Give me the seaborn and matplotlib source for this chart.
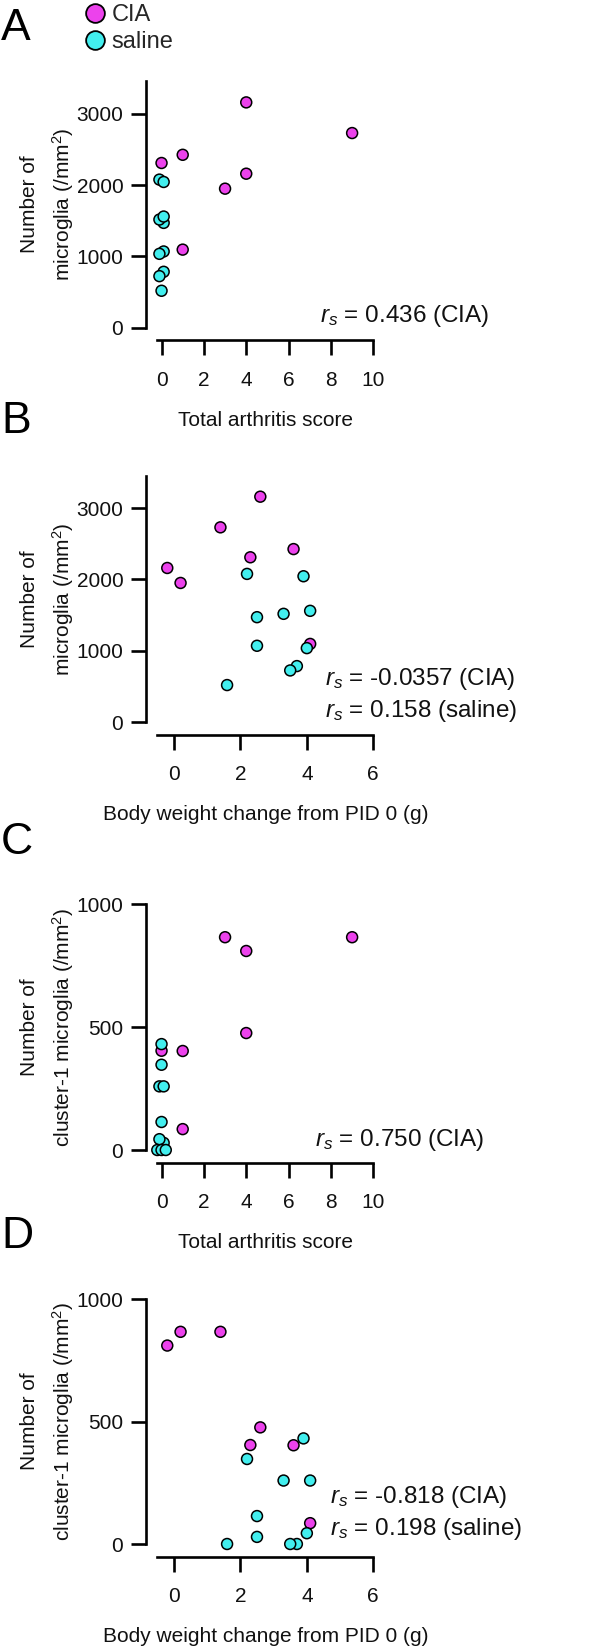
import matplotlib
matplotlib.use("Agg")
import matplotlib.pyplot as plt
from matplotlib.lines import Line2D
import seaborn as sns
import pandas as pd

# ---------------- data ----------------
groups = ["CIA", "saline"]

cia_score = [0, 1, 1, 3, 4, 4, 9]
cia_bw = [2.3, 3.6, 4.1, 0.2, 2.6, -0.2, 1.4]
cia_microglia = [2310, 2425, 1095, 1950, 3160, 2160, 2730]
cia_cluster1 = [404, 403, 85, 866, 476, 810, 866]

# saline animals all score 0; values below are the displayed (jittered) positions
saline_score_A = [-0.1, 0.1, 0.1, -0.1, 0.1, 0.1, -0.1, 0.1, -0.1, 0.0]
saline_score_C = [0.0, 0.0, 0.0, -0.1, 0.1, 0.1, -0.1, -0.2, 0.0, 0.2]
saline_bw = [2.2, 3.9, 2.5, 3.3, 4.1, 2.5, 4.0, 3.7, 3.5, 1.6]
saline_microglia = [2077, 2044, 1470, 1517, 1559, 1069, 1036, 784, 723, 518]
saline_cluster1 = [347, 431, 114, 259, 259, 29, 44, 0, 0, 0]

rs_A = ["$r_s$ = 0.436 (CIA)"]
rs_B = ["$r_s$ = -0.0357 (CIA)", "$r_s$ = 0.158 (saline)"]
rs_C = ["$r_s$ = 0.750 (CIA)"]
rs_D = ["$r_s$ = -0.818 (CIA)", "$r_s$ = 0.198 (saline)"]

xticks_score = [0, 2, 4, 6, 8, 10]
xticks_bw = [0, 2, 4, 6]
yticks_micro = [0, 1000, 2000, 3000]
yticks_c1 = [0, 500, 1000]

palette = {"CIA": "#ec42ec", "saline": "#42eeee"}

# ---------------- style ----------------
sns.set_theme(style="ticks")
plt.rcParams["font.family"] = ["Liberation Sans", "DejaVu Sans"]
plt.rcParams["mathtext.fontset"] = "custom"
plt.rcParams["mathtext.rm"] = "Liberation Sans"
plt.rcParams["mathtext.it"] = "Liberation Sans:italic"
plt.rcParams["mathtext.bf"] = "Liberation Sans:bold"

W, H = 598, 1651
fig = plt.figure(figsize=(W / 100, H / 100), dpi=100)


def add_ax(left, right, top, bottom):
    return fig.add_axes([left / W, 1 - bottom / H, (right - left) / W, (bottom - top) / H])


def make_df(x_cia, y_cia, x_sal, y_sal):
    return pd.DataFrame({
        "x": list(x_cia) + list(x_sal),
        "y": list(y_cia) + list(y_sal),
        "group": ["CIA"] * len(x_cia) + ["saline"] * len(x_sal),
    })


FS = 15
LW = 1.9
TXT = "#111111"


def style(ax, xlim, ylim, xticks, yticks, xlabel, ylabel):
    ax.set_xlim(*xlim)
    ax.set_ylim(*ylim)
    ax.set_xticks(xticks)
    ax.set_yticks(yticks)
    for s in ["top", "right"]:
        ax.spines[s].set_visible(False)
    ax.spines["left"].set_position(("outward", 8.4))
    ax.spines["bottom"].set_position(("outward", 9.2))
    for s in ["left", "bottom"]:
        ax.spines[s].set_linewidth(LW)
        ax.spines[s].set_color("black")
    ax.tick_params(axis="both", direction="out", length=10.6, width=LW,
                   color="black", labelsize=FS, labelcolor=TXT)
    ax.tick_params(axis="x", pad=11.5)
    ax.tick_params(axis="y", pad=5.5)
    ax.set_xlabel(xlabel, fontsize=FS, labelpad=15, color=TXT)
    ax.set_ylabel(ylabel, fontsize=FS, linespacing=1.55, color=TXT)
    ax.yaxis.set_label_coords(-0.378, 0.5)
    ax.set_facecolor("none")
    ax.grid(False)


def scatter(ax, df):
    sns.scatterplot(data=df, x="x", y="y", hue="group", hue_order=groups,
                    palette=palette, s=62, edgecolor="black", linewidth=1.1,
                    legend=False, ax=ax, clip_on=False, zorder=3)


def annotate(ax, lines, x, ys):
    for t, y in zip(lines, ys):
        ax.text(x, y, t, transform=ax.transAxes, ha="left", va="baseline",
                fontsize=17.5, color=TXT, clip_on=False)


ylab_micro = "Number of\nmicroglia (/mm$^{2}$)"
ylab_c1 = "Number of\ncluster-1 microglia (/mm$^{2}$)"

# Panel A
axA = add_ax(157.3, 373.3, 81, 327.7)
scatter(axA, make_df(cia_score, cia_microglia, saline_score_A, saline_microglia))
style(axA, (-0.2, 10), (0, 3460), xticks_score, yticks_micro,
      "Total arthritis score", ylab_micro)
annotate(axA, rs_A, 0.753, [0.024])

# Panel B
axB = add_ax(157.3, 373.3, 476, 722)
scatter(axB, make_df(cia_bw, cia_microglia, saline_bw, saline_microglia))
style(axB, (-0.5, 6), (0, 3450), xticks_bw, yticks_micro,
      "Body weight change from PID 0 (g)", ylab_micro)
annotate(axB, rs_B, 0.777, [0.150, 0.0215])

# Panel C
axC = add_ax(157.3, 373.3, 904.3, 1150)
scatter(axC, make_df(cia_score, cia_cluster1, saline_score_C, saline_cluster1))
style(axC, (-0.2, 10), (0, 1000), xticks_score, yticks_c1,
      "Total arthritis score", ylab_c1)
annotate(axC, rs_C, 0.73, [0.016])

# Panel D
axD = add_ax(157.3, 373.3, 1299, 1544)
scatter(axD, make_df(cia_bw, cia_cluster1, saline_bw, saline_cluster1))
style(axD, (-0.5, 6), (0, 1000), xticks_bw, yticks_c1,
      "Body weight change from PID 0 (g)", ylab_c1)
annotate(axD, rs_D, 0.80, [0.169, 0.037])

# Panel letters
for letter, base in zip(["A", "B", "C", "D"], [40, 433, 854, 1248]):
    fig.text(1 / W, 1 - base / H, letter, fontsize=32, ha="left", va="baseline", color="black")

# Legend
handles = [Line2D([], [], linestyle="none", marker="o", markersize=13.5,
                  markerfacecolor=palette[g], markeredgecolor="black",
                  markeredgewidth=1.3) for g in groups]
fig.legend(handles, groups, loc="upper left", bbox_to_anchor=(83 / W, 1.0 - 4 / H),
           frameon=False, fontsize=17, handlelength=1.0, handletextpad=0.2,
           labelspacing=0.22, borderpad=0, borderaxespad=0)

fig.savefig("out.png", dpi=100)
